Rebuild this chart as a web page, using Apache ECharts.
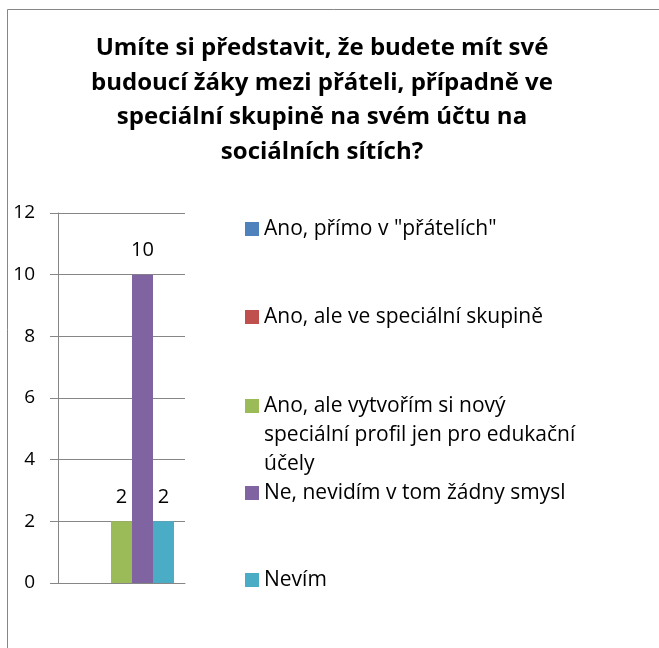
<!DOCTYPE html>
<html>
<head>
<meta charset="utf-8">
<script src="https://cdn.jsdelivr.net/npm/echarts@6/dist/echarts.min.js"></script>
<style>
  html, body { margin: 0; padding: 0; background: #fff; }
  #chart { width: 659px; height: 648px; }
</style>
</head>
<body>
<div id="chart"></div>
<script>
const titleText = 'Umíte si představit, že budete mít své\nbudoucí žáky mezi přáteli, případně ve\nspeciální skupině na svém účtu na\nsociálních sítích?';
const categories = [''];
const seriesNames = [
  'Ano, přímo v "přátelích"',
  'Ano, ale ve speciální skupině',
  'Ano, ale vytvořím si nový\nspeciální profil jen pro edukační\núčely',
  'Ne, nevidím v tom žádny smysl',
  'Nevím'
];
const seriesValues = [0, 0, 2, 10, 2];
const colors = ['#4F81BD', '#C0504D', '#9BBB59', '#8064A2', '#4BACC6'];
const yTicks = { min: 0, max: 12, interval: 2 };

const FONT = '"Open Sans", Lato, sans-serif';
const chart = echarts.init(document.getElementById('chart'));

// legend rows (icon centre y) — item 3 wraps onto three lines
const legendY = [229, 317, 406, 493, 580];

const legends = seriesNames.map((name, i) => {
  const extraLines = name.split('\n').length - 1;
  // pad with empty lines on top so the marker sits beside the first line
  const pad = '\n'.repeat(extraLines);
  return {
    data: [name],
    orient: 'vertical',
    left: 245,
    top: legendY[i] - 14.5 - extraLines * 29,
    padding: 0,
    itemWidth: 14,
    itemHeight: 14,
    icon: 'rect',
    selectedMode: false,
    formatter: n => pad + n,
    textStyle: {
      fontFamily: FONT,
      fontSize: 21,
      color: '#000',
      lineHeight: 29
    }
  };
});

const option = {
  animation: false,
  color: colors,
  title: {
    text: titleText,
    left: 322,
    top: 31,
    padding: 0,
    textAlign: 'center',
    textStyle: {
      fontFamily: FONT,
      fontWeight: 'bold',
      fontSize: 24,
      lineHeight: 34.5,
      color: '#000'
    }
  },
  legend: legends,
  graphic: [{
    type: 'rect',
    shape: { x: 7.5, y: 9.5, width: 800, height: 800 },
    style: { fill: 'none', stroke: '#868686', lineWidth: 1 },
    silent: true
  }],
  grid: { left: 58, top: 213, width: 127, height: 370 },
  xAxis: {
    type: 'category',
    data: categories,
    axisLine: { show: true, lineStyle: { color: '#868686' } },
    axisTick: { show: false },
    axisLabel: { show: false }
  },
  yAxis: {
    type: 'value',
    min: yTicks.min,
    max: yTicks.max,
    interval: yTicks.interval,
    axisLine: { show: true, lineStyle: { color: '#868686' } },
    axisTick: { show: true, length: 8, lineStyle: { color: '#868686' } },
    axisLabel: { fontFamily: FONT, fontSize: 19, color: '#000', margin: 23 },
    splitLine: { lineStyle: { color: '#868686' } }
  },
  series: seriesNames.map((name, i) => ({
    name: name,
    type: 'bar',
    barWidth: 21,
    barGap: '0%',
    data: [seriesValues[i]],
    label: {
      show: true,
      position: 'top',
      distance: 14,
      fontFamily: FONT,
      fontSize: 20,
      color: '#000',
      formatter: p => (p.value ? String(p.value) : '')
    }
  }))
};

chart.setOption(option);
</script>
</body>
</html>
